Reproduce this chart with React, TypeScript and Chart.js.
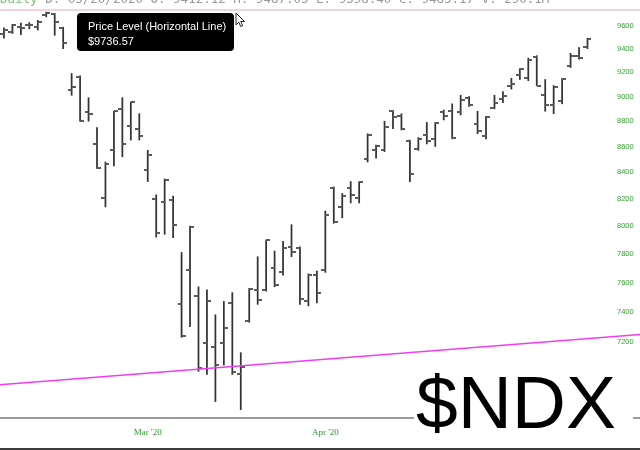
import React, { useEffect, useRef } from "react";
import { Chart, registerables } from "chart.js";

Chart.register(...registerables);

// ---- data ----
const dates: string[] = [
  "2020-02-11", "2020-02-12", "2020-02-13", "2020-02-14", "2020-02-18", "2020-02-19", "2020-02-20", "2020-02-21",
  "2020-02-24", "2020-02-25", "2020-02-26", "2020-02-27", "2020-02-28",
  "2020-03-02", "2020-03-03", "2020-03-04", "2020-03-05", "2020-03-06",
  "2020-03-09", "2020-03-10", "2020-03-11", "2020-03-12", "2020-03-13",
  "2020-03-16", "2020-03-17", "2020-03-18", "2020-03-19", "2020-03-20",
  "2020-03-23", "2020-03-24", "2020-03-25", "2020-03-26", "2020-03-27",
  "2020-03-30", "2020-03-31", "2020-04-01", "2020-04-02", "2020-04-03",
  "2020-04-06", "2020-04-07", "2020-04-08", "2020-04-09",
  "2020-04-13", "2020-04-14", "2020-04-15", "2020-04-16", "2020-04-17",
  "2020-04-20", "2020-04-21", "2020-04-22", "2020-04-23", "2020-04-24",
  "2020-04-27", "2020-04-28", "2020-04-29", "2020-04-30", "2020-05-01",
  "2020-05-04", "2020-05-05", "2020-05-06", "2020-05-07", "2020-05-08",
  "2020-05-11", "2020-05-12", "2020-05-13", "2020-05-14", "2020-05-15",
  "2020-05-18", "2020-05-19", "2020-05-20",
];

const opens: number[] = [
  9530, 9545, 9590, 9600, 9590, 9690, 9700, 9580,
  9050, 9160, 8870, 8620, 8210,
  8570, 8900, 8760, 8740, 8420,
  8200, 8180, 8190, 7450, 7690,
  7510, 7190, 7170, 7190, 7460,
  6995, 7340, 7550, 7550, 7700,
  7670, 7850, 7840, 7470, 7650,
  7690, 8280, 8140, 8285,
  8210, 8500, 8570, 8570, 8880,
  8840, 8640, 8580, 8690, 8660,
  8870, 8880, 8870, 8990, 8780,
  8680, 8910, 8980, 9090, 9180,
  9150, 9330, 9010, 8930, 8960,
  9250, 9340, 9410,
];

const highs: number[] = [
  9580, 9610, 9620, 9625, 9645, 9718, 9705, 9585,
  9190, 9170, 8990, 8750, 8480,
  8880, 8990, 8955, 8860, 8570,
  8230, 8350, 8220, 7810, 8000,
  7570, 7550, 7380, 7470, 7530,
  7130, 7560, 7780, 7900, 7820,
  7890, 8010, 7850, 7660, 7680,
  8110, 8290, 8240, 8330,
  8330, 8700, 8610, 8800, 8885,
  8860, 8650, 8670, 8790, 8790,
  8890, 8940, 9010, 9000, 8880,
  8840, 9010, 9040, 9150, 9230,
  9320, 9340, 9140, 9090, 9150,
  9360, 9410, 9490,
];

const lows: number[] = [
  9490, 9530, 9520, 9570, 9560, 9675, 9515, 9400,
  9010, 8800, 8800, 8430, 8140,
  8450, 8520, 8650, 8650, 8330,
  7920, 7940, 7915, 7230, 7300,
  7010, 6990, 6820, 7050, 6990,
  6770, 7330, 7450, 7540, 7570,
  7650, 7780, 7450, 7440, 7460,
  7670, 8020, 8060, 8170,
  8170, 8480, 8510, 8560, 8740,
  8730, 8330, 8570, 8620, 8600,
  8810, 8660, 8850, 8920, 8700,
  8660, 8900, 8950, 9060, 9140,
  9130, 9090, 8880, 8860, 8940,
  9240, 9310, 9400,
];

const closes: number[] = [
  9560, 9600, 9580, 9605, 9630, 9712, 9630, 9447,
  9080, 8805, 8860, 8437, 8462,
  8878, 8623, 8952, 8683, 8530,
  7948, 8344, 8010, 7240, 7990,
  7030, 7474, 7050, 7290, 7006,
  7040, 7554, 7480, 7897, 7585,
  7840, 7813, 7486, 7650, 7530,
  8080, 8030, 8220, 8230,
  8330, 8688, 8600, 8750, 8830,
  8740, 8390, 8660, 8640, 8785,
  8840, 8670, 8975, 8930, 8718,
  8834, 8947, 9001, 9102, 9226,
  9307, 9090, 8930, 9080, 9140,
  9340, 9320, 9480,
];

const priceTicks: number[] = [7200, 7400, 7600, 7800, 8000, 8200, 8400, 8600, 8800, 9000, 9200, 9400, 9600];
const monthLabels: string[] = ["Mar '20", "Apr '20"];
const monthLabelDates: string[] = ["2020-03-06", "2020-04-06"];

const priceLevel = 9736.57;
// user-drawn trend line: bar-index positions and prices of its two ends
const trendIndex: number[] = [-0.5, 75.5];
const trendPrice: number[] = [6925, 7250];

const yRange: number[] = [6725, 9825];
const xRange: number[] = [-0.47, 71.07];

const headerGreen = "Daily";
const headerGrey = " D: 05/20/2020 O: 9412.12 H: 9487.05 L: 9398.40 C: 9485.17 V: 290.1M";
const tipTitle = "Price Level (Horizontal Line)";
const tipValue = "$9736.57";
const symbolText = "$NDX";

const GREEN = "#35a035";
const BAR = "#333333";

function makeTick(side: "l" | "r"): HTMLCanvasElement {
  const c = document.createElement("canvas");
  c.width = 8;
  c.height = 2;
  const g = c.getContext("2d")!;
  g.fillStyle = "#5a5a5a";
  if (side === "l") g.fillRect(0, 0, 4, 2);
  else g.fillRect(4, 0, 4, 2);
  return c;
}

export default function App() {
  const ref = useRef<HTMLCanvasElement | null>(null);

  useEffect(() => {
    document.body.style.margin = "0";
    const canvas = ref.current;
    if (!canvas) return;
    const leftTick = makeTick("l");
    const rightTick = makeTick("r");

    const overlay = {
      id: "overlay",
      beforeDraw(chart: any) {
        const { ctx } = chart;
        ctx.save();
        ctx.fillStyle = "#ffffff";
        ctx.fillRect(0, 0, chart.width, chart.height);
        ctx.restore();
      },
      beforeDatasetsDraw(chart: any) {
        const { ctx, chartArea } = chart;
        const y = chart.scales.y;
        const W = chart.width;
        ctx.save();
        const py = y.getPixelForValue(priceLevel);
        ctx.strokeStyle = "#f1c6c6";
        ctx.lineWidth = 1.5;
        ctx.beginPath();
        ctx.moveTo(0, py);
        ctx.lineTo(W, py);
        ctx.stroke();
        ctx.strokeStyle = "#9b9b9b";
        ctx.lineWidth = 2;
        ctx.beginPath();
        ctx.moveTo(0, chartArea.bottom + 1);
        ctx.lineTo(W, chartArea.bottom + 1);
        ctx.stroke();
        ctx.restore();
      },
      afterDraw(chart: any) {
        const { ctx } = chart;
        const W = chart.width;
        const H = chart.height;
        ctx.save();
        ctx.font = "12.5px 'DejaVu Sans Mono', monospace";
        ctx.textBaseline = "alphabetic";
        ctx.textAlign = "left";
        ctx.fillStyle = "#77c277";
        ctx.fillText(headerGreen, 0, 2.5);
        const gw = ctx.measureText(headerGreen).width;
        ctx.fillStyle = "#999999";
        ctx.fillText(headerGrey, gw, 2.5);

        const bx = 77, by = 13, bw = 157, bh = 38, r = 4;
        ctx.fillStyle = "#000000";
        ctx.beginPath();
        ctx.moveTo(bx + r, by);
        ctx.lineTo(bx + bw - r, by);
        ctx.arcTo(bx + bw, by, bx + bw, by + r, r);
        ctx.lineTo(bx + bw, by + bh - r);
        ctx.arcTo(bx + bw, by + bh, bx + bw - r, by + bh, r);
        ctx.lineTo(bx + r, by + bh);
        ctx.arcTo(bx, by + bh, bx, by + bh - r, r);
        ctx.lineTo(bx, by + r);
        ctx.arcTo(bx, by, bx + r, by, r);
        ctx.closePath();
        ctx.fill();
        ctx.fillStyle = "#ffffff";
        ctx.font = "11px 'Liberation Sans', Arial, sans-serif";
        ctx.fillText(tipTitle, 88, 30);
        ctx.fillText(tipValue, 88, 45);

        const cx = 236, cy = 13, s = 0.85;
        const pts = [[0, 0], [0, 14], [3.3, 10.8], [5.6, 16], [7.8, 15], [5.6, 10], [10, 10]];
        ctx.beginPath();
        pts.forEach((p, i) => {
          const X = cx + p[0] * s, Y = cy + p[1] * s;
          if (i === 0) ctx.moveTo(X, Y);
          else ctx.lineTo(X, Y);
        });
        ctx.closePath();
        ctx.fillStyle = "#ffffff";
        ctx.fill();
        ctx.strokeStyle = "#222222";
        ctx.lineWidth = 1;
        ctx.stroke();

        ctx.fillStyle = "#ffffff";
        ctx.fillRect(414, 362, 219, 84);
        ctx.fillStyle = "#000000";
        ctx.font = "75px 'Liberation Sans', Arial, sans-serif";
        ctx.textBaseline = "alphabetic";
        ctx.fillText(symbolText, 416, 428);

        ctx.fillStyle = "#3c3c3c";
        ctx.fillRect(0, H - 2, W, 2);
        ctx.restore();
      },
    };

    const barData = dates.map((_, i) => ({ x: i, y: [lows[i], highs[i]] }));
    const openData = dates.map((_, i) => ({ x: i, y: opens[i] }));
    const closeData = dates.map((_, i) => ({ x: i, y: closes[i] }));
    const trendData = trendIndex.map((x, i) => ({ x, y: trendPrice[i] }));
    const monthIdx = monthLabelDates.map((d) => dates.indexOf(d));

    const noPad = (s: any) => {
      s.paddingTop = 0;
      s.paddingBottom = 0;
      s.paddingLeft = 0;
      s.paddingRight = 0;
    };

    const chart = new Chart(canvas, {
      type: "bar",
      data: {
        datasets: [
          {
            type: "line",
            data: trendData as any,
            borderColor: "#f23cf2",
            borderWidth: 1.6,
            pointRadius: 0,
            clip: false as any,
            order: 0,
          } as any,
          {
            type: "bar",
            data: barData as any,
            backgroundColor: BAR,
            borderWidth: 0,
            barThickness: 1.1,
            order: 2,
          } as any,
          {
            type: "line",
            data: openData as any,
            showLine: false,
            pointStyle: leftTick,
            pointRadius: 3,
            order: 1,
          } as any,
          {
            type: "line",
            data: closeData as any,
            showLine: false,
            pointStyle: rightTick,
            pointRadius: 3,
            order: 1,
          } as any,
        ],
      },
      options: {
        animation: false,
        responsive: false,
        events: [],
        layout: { padding: 0, autoPadding: false },
        plugins: {
          legend: { display: false },
          tooltip: { enabled: false },
          title: { display: false },
        },
        scales: {
          x: {
            type: "linear",
            position: "bottom",
            min: xRange[0],
            max: xRange[1],
            bounds: "data",
            offset: false,
            grid: { display: false, drawTicks: false, offset: false },
            border: { display: false },
            afterFit: (s: any) => {
              s.height = 33;
              noPad(s);
            },
            afterBuildTicks: (s: any) => {
              s.ticks = monthIdx.map((v) => ({ value: v }));
            },
            ticks: {
              autoSkip: false,
              maxRotation: 0,
              padding: 10,
              color: "#2f9a2f",
              font: { family: "'Liberation Serif', serif", size: 9 },
              callback: (v: any) => {
                const k = monthIdx.indexOf(Number(v));
                return k >= 0 ? monthLabels[k] : "";
              },
            },
          },
          y: {
            type: "logarithmic",
            position: "right",
            min: yRange[0],
            max: yRange[1],
            bounds: "data",
            beginAtZero: false,
            grid: { display: false, drawTicks: false },
            border: { display: false },
            afterFit: (s: any) => {
              s.width = 35;
              noPad(s);
            },
            afterBuildTicks: (s: any) => {
              s.ticks = priceTicks.map((v) => ({ value: v }));
            },
            ticks: {
              padding: 12,
              color: GREEN,
              font: { family: "'Liberation Sans', Arial, sans-serif", size: 7.5 },
              callback: (v: any) => String(v),
            },
          },
        },
      } as any,
      plugins: [overlay],
    });

    return () => {
      chart.destroy();
    };
  }, []);

  return (
    <div style={{ position: "absolute", left: 0, top: 0, width: 640, height: 450 }}>
      <canvas ref={ref} width={640} height={450} style={{ display: "block" }} />
    </div>
  );
}
